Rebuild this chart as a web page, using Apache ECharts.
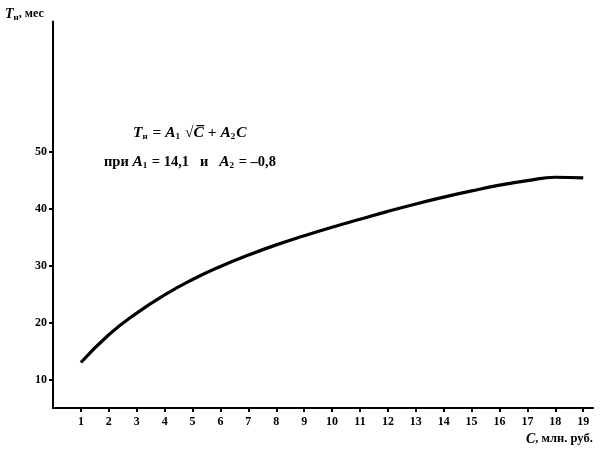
<!DOCTYPE html>
<html><head><meta charset="utf-8">
<script src="https://cdn.jsdelivr.net/npm/echarts@6/dist/echarts.min.js"></script>
<style>html,body{margin:0;padding:0;background:#fff}#c{width:604px;height:461px}</style>
</head><body><div id="c"></div>
<script>
// Data
const costC = [1,2,3,4,5,6,7,8,9,10,11,12,13,14,15,16,17,18,19];
const periodT = [13.0,17.9,21.7,24.9,27.6,29.9,31.9,33.7,35.3,36.8,38.2,39.6,40.9,42.1,43.2,44.2,45.0,45.6,45.5];
const xTickLabels = [1,2,3,4,5,6,7,8,9,10,11,12,13,14,15,16,17,18,19];
const yTickLabels = [10,20,30,40,50];

const F = '"Liberation Serif","DejaVu Serif",serif';
const chart = echarts.init(document.getElementById('c'), null, {renderer:'canvas'});
chart.setOption({
  animation:false,
  backgroundColor:'#fff',
  grid:{left:53,right:11,top:21.5,bottom:53},
  xAxis:{type:'value',min:0,max:19.35,
    axisLine:{show:true,lineStyle:{color:'#000',width:2}},
    axisTick:{show:true,customValues:xTickLabels,length:4,lineStyle:{color:'#000',width:2}},
    axisLabel:{customValues:xTickLabels,color:'#000',fontFamily:F,fontWeight:'bold',fontSize:12,margin:8},
    splitLine:{show:false}},
  yAxis:{type:'value',min:5,max:73,
    axisLine:{show:true,lineStyle:{color:'#000',width:2}},
    axisTick:{show:true,customValues:yTickLabels,length:4,lineStyle:{color:'#000',width:2}},
    axisLabel:{customValues:yTickLabels,color:'#000',fontFamily:F,fontWeight:'bold',fontSize:12,margin:6},
    splitLine:{show:false}},
  series:[{type:'line',smooth:0.5,symbol:'none',
    lineStyle:{color:'#000',width:3.2},
    data:costC.map((c,i)=>[c,periodT[i]])}],
  graphic:[
    {type:'text',left:5,top:7,style:{
      text:'{i|T}{s|н}{b|, мес}',
      rich:{i:{fontFamily:F,fontStyle:'italic',fontWeight:'bold',fontSize:14,fill:'#000'},
            s:{fontFamily:F,fontWeight:'bold',fontSize:9,fill:'#000',padding:[7,0,0,0]},
            b:{fontFamily:F,fontWeight:'bold',fontSize:12,fill:'#000'}}}},
    {type:'text',left:526,top:432,style:{
      text:'{i|C}{b|, млн. руб.}',
      rich:{i:{fontFamily:F,fontStyle:'italic',fontWeight:'bold',fontSize:14,fill:'#000'},
            b:{fontFamily:F,fontWeight:'bold',fontSize:12.5,fill:'#000'}}}},
    {type:'text',left:133,top:125,style:{
      text:'{i|T}{s|н}{b| = }{i|A}{s|1}{b| √}{i|C̅}{b| + }{i|A}{s|2}{i|C}',
      rich:{i:{fontFamily:F,fontStyle:'italic',fontWeight:'bold',fontSize:15.5,fill:'#000'},
            s:{fontFamily:F,fontWeight:'bold',fontSize:9,fill:'#000',padding:[7,1,0,0]},
            b:{fontFamily:F,fontWeight:'bold',fontSize:15.5,fill:'#000'}}}},
    {type:'text',left:104,top:154,style:{
      text:'{b|при }{i|A}{s|1}{b| = 14,1   и   }{i|A}{s|2}{b| = –0,8}',
      rich:{i:{fontFamily:F,fontStyle:'italic',fontWeight:'bold',fontSize:15.5,fill:'#000'},
            s:{fontFamily:F,fontWeight:'bold',fontSize:9,fill:'#000',padding:[7,1,0,0]},
            b:{fontFamily:F,fontWeight:'bold',fontSize:14.5,fill:'#000'}}}}
  ]
});
</script></body></html>
